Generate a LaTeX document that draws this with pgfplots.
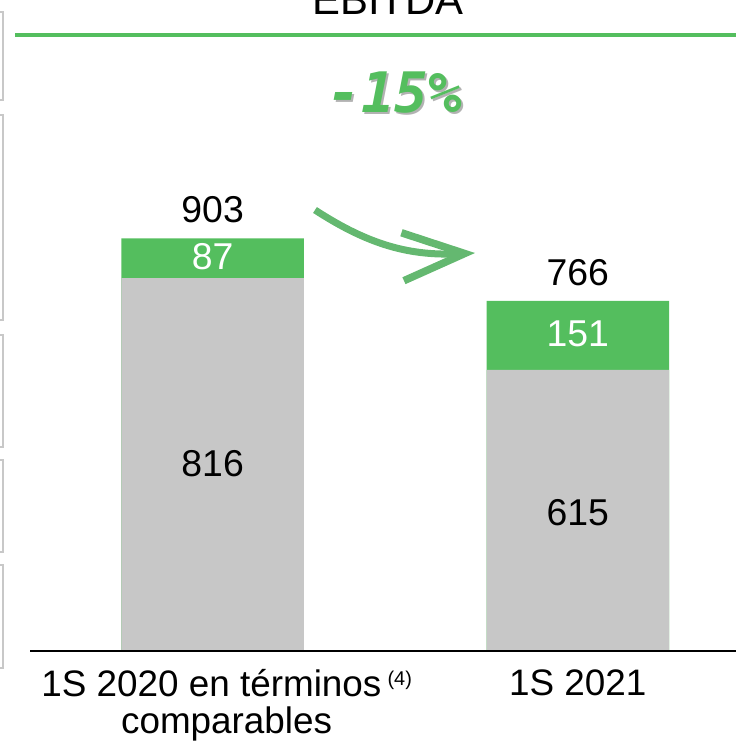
\documentclass[border=0pt]{standalone}
\usepackage{pgfplots}
\pgfplotsset{compat=1.18}
\usepackage{fontspec}
\setmainfont{Liberation Sans}
\newfontfamily\pctfont{DejaVu Sans Mono}
\usetikzlibrary{arrows.meta}
\definecolor{barGreen}{RGB}{84,190,94}
\definecolor{barGray}{RGB}{199,199,199}
\definecolor{arrowGreen}{RGB}{100,184,112}
\definecolor{boxGray}{RGB}{200,200,200}
\begin{document}
\begin{tikzpicture}[x=1bp,y=1bp]
\useasboundingbox (0,0) rectangle (736,741);
\clip (0,0) rectangle (736,741);
% side boxes (fragments at the left edge)
\foreach \a/\b in {12/100,115/320,335/447,460/552,565/668}{
  \draw[boxGray, line width=1.5bp] (-10,741-\a) -- (3,741-\a) -- (3,741-\b) -- (-10,741-\b);
}
% title and rule
\node[anchor=base, font=\fontsize{42}{46}\selectfont] at (388,726) {EBITDA};
\draw[barGreen, line width=4bp] (15,706) -- (736,706);
\begin{axis}[
  at={(30bp,90bp)}, anchor=south west,
  scale only axis, width=706bp, height=616bp,
  xmin=-0.5, xmax=1.433, ymin=0, ymax=1348,
  axis line style={draw=none},
  ytick=\empty,
  xtick={0,1},
  xticklabels={{\hspace*{28bp}1S 2020 en términos\,\raisebox{11bp}{\fontsize{20}{20}\selectfont(4)}\\\hspace*{28bp}comparables},{1S 2021}},
  xticklabel style={align=center, font=\fontsize{37}{37}\selectfont, yshift=-15bp},
  major tick length=0pt,
  clip=false,
]
\addplot[ybar, bar width=0.5, bar shift=0pt, fill=barGreen, draw=none] coordinates {(0,903) (1,766)};
\addplot[ybar, bar width=0.5, bar shift=0pt, fill=barGray, draw=none] coordinates {(0,816) (1,615)};
% baseline
\draw[black, line width=1.8bp] (axis cs:-0.5,0) -- (axis cs:1.433,0);
% labels
\addplot[draw=none, nodes near coords, point meta=explicit symbolic,
  every node near coord/.append style={anchor=center, font=\fontsize{37.5}{40}\selectfont, text=black}]
  coordinates {(0,409)[816] (1,302)[615] (0,965)[903] (1,827)[766]};
\addplot[draw=none, nodes near coords, point meta=explicit symbolic,
  every node near coord/.append style={anchor=center, font=\fontsize{37.5}{40}\selectfont, text=white}]
  coordinates {(0,862)[87] (1,694)[151]};
\end{axis}
% -15% with shadow
\node[anchor=base, inner sep=0pt, font=\pctfont\bfseries\itshape\fontsize{56}{58}\selectfont] at (395,628)
  {\rlap{\hspace{2bp}\raisebox{-2bp}{\color{black!30}-15\%}}\color{barGreen}-15\%};
% arrow
\draw[arrowGreen, line width=7bp, -{Straight Barb[length=62bp, width=48bp, line width=7.5bp]}] (315,531) to[bend right=18] (475,488);
\end{tikzpicture}
\end{document}
